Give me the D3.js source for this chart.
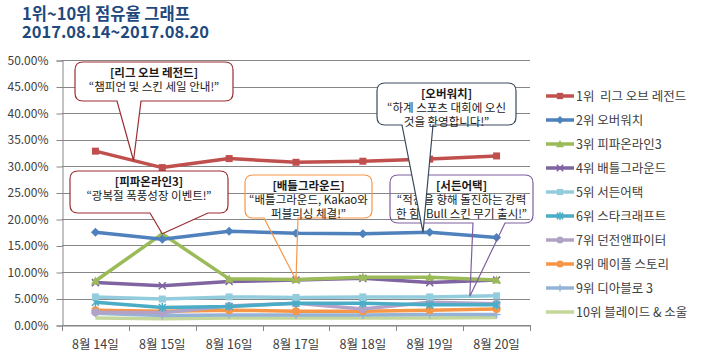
<!DOCTYPE html>
<html><head><meta charset="utf-8">
<script src="https://cdn.jsdelivr.net/npm/d3@7"></script>
<style>
body{margin:0;background:#fff;}
svg{font-family:"Noto Sans CJK KR","Noto Sans",sans-serif;}
</style></head><body>
<svg id="c" width="703" height="357"></svg>
<script>
const categories = ["8월 14일","8월 15일","8월 16일","8월 17일","8월 18일","8월 19일","8월 20일"];
const seriesNames = ["1위  리그 오브 레전드","2위 오버워치","3위 피파온라인3","4위 배틀그라운드","5위 서든어택","6위 스타크래프트","7위 던전앤파이터","8위 메이플 스토리","9위 디아블로 3","10위 블레이드 & 소울"];
const lol   = [32.8, 29.7, 31.4, 30.7, 30.9, 31.3, 31.9];
const ow    = [17.5, 16.2, 17.7, 17.3, 17.2, 17.5, 16.5];
const fifa  = [8.3, 17.2, 8.7, 8.6, 9.0, 9.0, 8.5];
const bg    = [8.0, 7.4, 8.2, 8.5, 8.8, 8.0, 8.5];
const sa    = [5.3, 4.9, 5.3, 5.2, 5.3, 5.3, 5.5];
const sc    = [4.3, 3.3, 3.5, 4.1, 4.1, 3.8, 3.8];
const dnf   = [2.4, 2.3, 3.6, 4.1, 3.0, 4.3, 4.0];
const maple = [2.8, 2.6, 2.8, 2.6, 2.6, 2.8, 3.0];
const d3g   = [2.2, 1.8, 1.9, 1.9, 1.9, 2.0, 2.0];
const bns   = [1.3, 1.2, 1.3, 1.3, 1.3, 1.3, 1.4];
const yTicks = [0,5,10,15,20,25,30,35,40,45,50];
const titleLines = ["1위~10위 점유율 그래프","2017.08.14~2017.08.20"];
const calloutTitles = ["[리그 오브 레전드]","[오버워치]","[피파온라인3]","[배틀그라운드]","[서든어택]"];
const calloutTexts = [
  ["“챔피언 및 스킨 세일 안내!”"],
  ["“하계 스포츠 대회에 오신","것을 환영합니다!”"],
  ["“광복절 폭풍성장 이벤트!”"],
  ["“배틀그라운드, Kakao와","퍼블리싱 체결!”"],
  ["“적진을 향해 돌진하는 강력","한 힘! Bull 스킨 무기 출시!”"]
];

const allSeries = [lol, ow, fifa, bg, sa, sc, dnf, maple, d3g, bns];
const colors = ["#C0504D","#4F81BD","#9BBB59","#8064A2","#93CDDD","#4BACC6","#B3A2C7","#F79646","#95B3D7","#C3D69B"];
const markers = ["square","diamond","triangle","x","square","star","circle","circle","plus","none"];

const svg = d3.select("#c");
const L = 62, R = 530, T = 60, B = 325;
const x = d3.scaleBand().domain(categories).range([L, R]).padding(0);
const cx = c => x(c) + x.bandwidth()/2;
const y = d3.scaleLinear().domain([0, 50]).range([B, T]);

// title
svg.append("g").selectAll("text").data(titleLines).join("text")
  .attr("x", 22).attr("y", (d,i)=>20 + i*18)
  .attr("font-size", 16.5).attr("font-weight", "bold").attr("fill", "#1F497D")
  .text(d=>d);

// gridlines
svg.append("g").selectAll("line").data(yTicks).join("line")
  .attr("x1", L).attr("x2", R).attr("y1", d=>Math.round(y(d))+0.5).attr("y2", d=>Math.round(y(d))+0.5)
  .attr("stroke", "#868686").attr("stroke-width", 1);

// y axis
const yAxis = svg.append("g").attr("transform", `translate(${L+0.5},0.5)`)
  .call(d3.axisLeft(y).tickValues(yTicks).tickSize(6).tickPadding(8).tickFormat(d=>d3.format(".2f")(d)+"%"));
yAxis.selectAll("path,line").attr("stroke", "#868686");
yAxis.selectAll("text").attr("font-size", 12).attr("fill", "#404040").attr("font-family", '"Noto Sans CJK KR",sans-serif');

// x axis
const xAxis = svg.append("g").attr("transform", `translate(0,${B+0.5})`)
  .call(d3.axisBottom(x).tickSize(0).tickPadding(15));
xAxis.select("path").attr("stroke", "#868686");
xAxis.selectAll("text").attr("font-size", 12.5).attr("fill", "#404040").attr("font-family", '"Noto Sans CJK KR",sans-serif');
const bounds = categories.map(c => x(c)).concat([R]);
svg.append("g").selectAll("line").data(bounds).join("line")
  .attr("x1", d=>Math.round(d)+0.5).attr("x2", d=>Math.round(d)+0.5).attr("y1", B).attr("y2", B+6)
  .attr("stroke", "#868686");

// marker drawing
function drawMarker(g, type, color, px, py, s) {
  s = s || 1;
  if (type === "square") g.append("rect").attr("x", px-3.5*s).attr("y", py-3.5*s).attr("width", 7*s).attr("height", 7*s).attr("fill", color);
  else if (type === "diamond") g.append("path").attr("d", `M${px},${py-4.5*s}L${px+4.5*s},${py}L${px},${py+4.5*s}L${px-4.5*s},${py}Z`).attr("fill", color);
  else if (type === "triangle") g.append("path").attr("d", `M${px},${py-4.5*s}L${px+4.5*s},${py+3.5*s}L${px-4.5*s},${py+3.5*s}Z`).attr("fill", color);
  else if (type === "x") g.append("path").attr("d", `M${px-3.5*s},${py-3.5*s}L${px+3.5*s},${py+3.5*s}M${px+3.5*s},${py-3.5*s}L${px-3.5*s},${py+3.5*s}`).attr("stroke", color).attr("stroke-width", 1.5);
  else if (type === "star") g.append("path").attr("d", `M${px-3.5*s},${py-3.5*s}L${px+3.5*s},${py+3.5*s}M${px+3.5*s},${py-3.5*s}L${px-3.5*s},${py+3.5*s}M${px},${py-4.5*s}L${px},${py+4.5*s}`).attr("stroke", color).attr("stroke-width", 1.5);
  else if (type === "circle") g.append("circle").attr("cx", px).attr("cy", py).attr("r", 4*s).attr("fill", color);
  else if (type === "plus") g.append("path").attr("d", `M${px-4*s},${py}L${px+4*s},${py}M${px},${py-4*s}L${px},${py+4*s}`).attr("stroke", color).attr("stroke-width", 1.5);
}

// series lines (draw last series first so rank 1 on top)
const line = d3.line().x((d,i)=>cx(categories[i])).y(d=>y(d));
for (let k = allSeries.length-1; k >= 0; k--) {
  const g = svg.append("g");
  g.append("path").attr("d", line(allSeries[k])).attr("fill", "none")
    .attr("stroke", colors[k]).attr("stroke-width", 3.5).attr("stroke-linejoin", "round");
  allSeries[k].forEach((v,i)=>drawMarker(g, markers[k], colors[k], cx(categories[i]), y(v)));
}

// legend
const lg = svg.append("g");
seriesNames.forEach((n,k)=>{
  const ly = 96 + k*24;
  lg.append("line").attr("x1", 546).attr("x2", 574).attr("y1", ly).attr("y2", ly).attr("stroke", colors[k]).attr("stroke-width", 3.5);
  drawMarker(lg, markers[k], colors[k], 560, ly, 0.9);
  lg.append("text").attr("x", 576).attr("y", ly+4.5).attr("font-size", 12.5).attr("fill", "#404040").attr("xml:space","preserve").style("white-space","pre").text(n);
});

// callouts
function interp(arr, t) { const i = Math.floor(t), f = t - i; const a = arr[i], b = arr[Math.min(i+1, arr.length-1)]; return a + (b-a)*f; }
function xAt(t) { const i = Math.floor(t), f = t - i; const a = cx(categories[i]), b = cx(categories[Math.min(i+1, categories.length-1)]); return a + (b-a)*f; }
const callouts = [
  {box:[75,62,233,101], base:[117,141], tip:[xAt(0.57), y(interp(lol,0.57))], color:"#9B2D30", fill:"#fff"},
  {box:[377,83,516,125], base:[402,433], tip:[xAt(4.9), y(interp(ow,4.9))], color:"#3A4A5C", fill:"#fff"},
  {box:[70,171,228,213], base:[150,208], tip:[xAt(1), y(fifa[1])], color:"#9B2D30", fill:"#fff"},
  {box:[245,175,372,218], base:[264,298], tip:[xAt(3), y(bg[3])], color:"#F79646", fill:"none"},
  {box:[390,175,533,223], base:[473,505], tip:[xAt(5.6), y(interp(sa,5.6))], color:"#7F5FA0", fill:"none"}
];
function calloutPath(c) {
  const [x0,y0,x1,y1] = c.box, r = 8, [b1,b2] = c.base, [tx,ty] = c.tip;
  return `M${x0+r},${y0}H${x1-r}Q${x1},${y0} ${x1},${y0+r}V${y1-r}Q${x1},${y1} ${x1-r},${y1}H${b2}L${tx},${ty}L${b1},${y1}H${x0+r}Q${x0},${y1} ${x0},${y1-r}V${y0+r}Q${x0},${y0} ${x0+r},${y0}Z`;
}
const order = [4,3,2,0,1];
order.forEach(k=>{
  const c = callouts[k];
  const g = svg.append("g");
  g.append("path").attr("d", calloutPath(c)).attr("fill", c.fill).attr("stroke", c.color).attr("stroke-width", 1.2);
  const mx = (c.box[0]+c.box[2])/2;
  const lines = [calloutTitles[k]].concat(calloutTexts[k]);
  lines.forEach((t,i)=>{
    g.append("text").attr("x", mx).attr("y", c.box[1] + 15 + i*14).attr("text-anchor","middle")
      .attr("font-size", 11.5).attr("font-weight", i===0?"bold":"normal").attr("fill", "#1a1a1a").text(t);
  });
});
</script>
</body></html>
